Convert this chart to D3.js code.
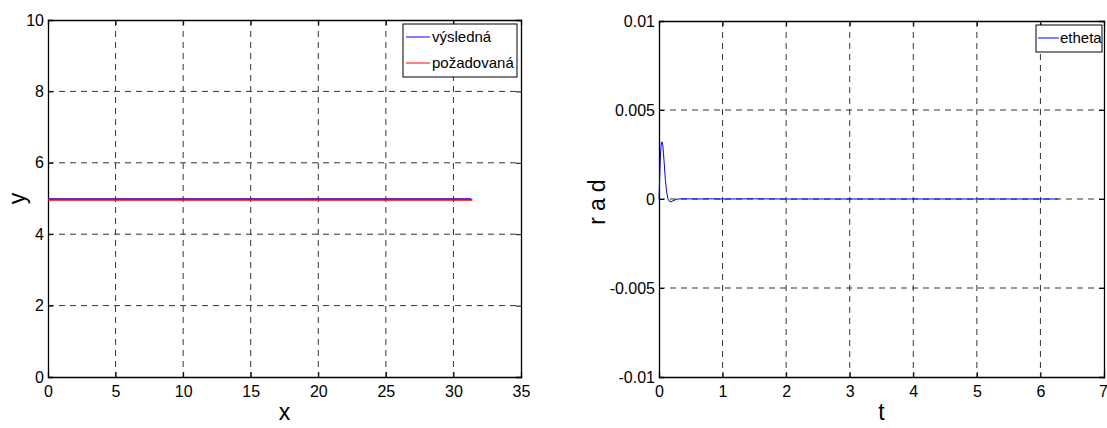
<!DOCTYPE html>
<html>
<head>
<meta charset="utf-8">
<script src="https://cdn.jsdelivr.net/npm/d3@7"></script>
<style>
  html, body { margin: 0; padding: 0; background: #fff; }
  svg text { font-family: "Liberation Sans", Arial, Helvetica, sans-serif; fill: #000; }
</style>
</head>
<body>
<svg id="chart" width="1107" height="428"></svg>
<script>
// ---- Left panel data ----
const leftXTicks = [0, 5, 10, 15, 20, 25, 30, 35];
const leftYTicks = [0, 2, 4, 6, 8, 10];
const leftXLabel = "x";
const leftYLabel = "y";
const resultX = [0, 5, 10, 15, 20, 25, 31.3];
const resultY = [5, 5, 5, 5, 5, 5, 5];
const desiredX = [0, 5, 10, 15, 20, 25, 31.4];
const desiredY = [5, 5, 5, 5, 5, 5, 5];
const leftLegend = ["výsledná", "požadovaná"];

// ---- Right panel data ----
const rightXTicks = [0, 1, 2, 3, 4, 5, 6, 7];
const rightYTicks = [-0.01, -0.005, 0, 0.005, 0.01];
const rightYTickLabels = ["-0.01", "-0.005", "0", "0.005", "0.01"];
const rightXLabel = "t";
const rightYLabel = "rad";
const ethetaT = [0, 0.01, 0.02, 0.03, 0.04, 0.05, 0.06, 0.07, 0.08, 0.1, 0.12, 0.14, 0.16, 0.19, 0.22, 0.26, 0.3, 0.4, 0.6, 0.8, 1.0, 1.5, 2.0, 3.0, 4.0, 5.0, 6.0, 6.28];
const ethetaV = [0, 0.0011, 0.0022, 0.0029, 0.0032, 0.0032, 0.003, 0.0026, 0.0021, 0.0011, 0.0004, 0.00002, -0.00012, -0.00016, -0.0001, -0.00004, 0, 0.00001, 0, 0.00001, 0, 0.00001, 0, 0, 0, 0, 0, 0];
const rightLegend = ["etheta"];

const svg = d3.select("#chart");

function panel(cfg) {
  const x = d3.scaleLinear().domain(cfg.xDomain).range([cfg.left, cfg.right]);
  const y = d3.scaleLinear().domain(cfg.yDomain).range([cfg.bottom, cfg.top]);
  const g = svg.append("g");

  // grid
  g.selectAll(".gx").data(cfg.xTicks.slice(1, -1)).enter().append("line")
    .attr("x1", d => x(d)).attr("x2", d => x(d))
    .attr("y1", cfg.top).attr("y2", cfg.bottom)
    .attr("stroke", "#333").attr("stroke-width", 1).attr("stroke-dasharray", "6,5");
  g.selectAll(".gy").data(cfg.yTicks.slice(1, -1)).enter().append("line")
    .attr("y1", d => y(d)).attr("y2", d => y(d))
    .attr("x1", cfg.left).attr("x2", cfg.right)
    .attr("stroke", "#333").attr("stroke-width", 1).attr("stroke-dasharray", "6,5");

  // axes
  const xAxis = d3.axisBottom(x).tickValues(cfg.xTicks).tickSize(-5).tickPadding(9)
    .tickFormat(cfg.xFormat || d3.format("d"));
  const yAxis = d3.axisLeft(y).tickValues(cfg.yTicks).tickSize(-5).tickPadding(4)
    .tickFormat((d, i) => cfg.yLabels ? cfg.yLabels[i] : d);
  const xa = g.append("g").attr("transform", `translate(0,${cfg.bottom})`).call(xAxis);
  const ya = g.append("g").attr("transform", `translate(${cfg.left},0)`).call(yAxis);
  const xt = g.append("g").attr("transform", `translate(0,${cfg.top})`)
    .call(d3.axisTop(x).tickValues(cfg.xTicks).tickSize(-5).tickFormat(""));
  const yr = g.append("g").attr("transform", `translate(${cfg.right},0)`)
    .call(d3.axisRight(y).tickValues(cfg.yTicks).tickSize(-5).tickFormat(""));
  [xa, ya, xt, yr].forEach(a => {
    a.select(".domain").attr("stroke", "#000").attr("stroke-width", 1.3);
    a.selectAll(".tick line").attr("stroke", "#000");
    a.selectAll("text").attr("font-size", 16).attr("font-family", "Liberation Sans, Arial, sans-serif").attr("fill", "#000");
  });
  if (cfg.lastXShift) {
    xa.selectAll(".tick text").filter((d, i, n) => i === n.length - 1).attr("dx", cfg.lastXShift);
  }

  // axis labels
  g.append("text").attr("x", (cfg.left + cfg.right) / 2).attr("y", 420)
    .attr("text-anchor", "middle").attr("font-size", 23).text(cfg.xLabel);
  g.append("text").attr("transform", `translate(${cfg.yLabelX},${(cfg.top + cfg.bottom) / 2}) rotate(-90)`)
    .attr("text-anchor", "middle").attr("font-size", 23)
    .attr("letter-spacing", cfg.yLabelSpacing || 0).text(cfg.yLabel);

  // series
  const line = d3.line().x(d => x(d[0])).y(d => y(d[1]));
  cfg.series.forEach(s => {
    g.append("path").datum(d3.zip(s.x, s.y))
      .attr("d", line).attr("fill", "none")
      .attr("stroke", s.color).attr("stroke-width", s.width)
      .attr("transform", s.shift ? `translate(0,${s.shift})` : null);
  });

  // legend
  const L = cfg.legend;
  const lg = g.append("g");
  lg.append("rect").attr("x", L.x).attr("y", L.y).attr("width", L.w).attr("height", L.h)
    .attr("fill", "#fff").attr("stroke", "#000").attr("stroke-width", 1);
  cfg.series.forEach((s, i) => {
    const yy = L.y + L.rowStart + i * L.rowH;
    lg.append("line").attr("x1", L.x + L.lineStart).attr("x2", L.x + L.lineEnd).attr("y1", yy).attr("y2", yy)
      .attr("stroke", s.color).attr("stroke-width", 1);
    lg.append("text").attr("x", L.x + L.textStart).attr("y", yy + 5).attr("font-size", 15).text(s.name);
  });
}

panel({
  left: 48, right: 521, top: 20, bottom: 377,
  xDomain: [0, 35], yDomain: [0, 10],
  xTicks: leftXTicks, yTicks: leftYTicks,
  xLabel: leftXLabel, yLabel: leftYLabel, yLabelX: 25,
  series: [
    { name: leftLegend[0], x: resultX, y: resultY, color: "#0000ff", width: 0.8 },
    { name: leftLegend[1], x: desiredX, y: desiredY, color: "#ff0000", width: 2, shift: 1.3 }
  ],
  legend: { x: 403, y: 24, w: 114, h: 53, rowStart: 13, rowH: 26, lineStart: 3, lineEnd: 27, textStart: 29 }
});

panel({
  left: 659, right: 1104, top: 21, bottom: 377,
  xDomain: [0, 7], yDomain: [-0.01, 0.01],
  xTicks: rightXTicks, yTicks: rightYTicks, yLabels: rightYTickLabels, lastXShift: -1,
  xLabel: rightXLabel, yLabel: rightYLabel, yLabelX: 605, yLabelSpacing: 6,
  series: [
    { name: rightLegend[0], x: ethetaT, y: ethetaV, color: "#0000ff", width: 1 }
  ],
  legend: { x: 1036, y: 25, w: 66, h: 27, rowStart: 13, rowH: 26, lineStart: 2, lineEnd: 23, textStart: 24 }
});
</script>
</body>
</html>
